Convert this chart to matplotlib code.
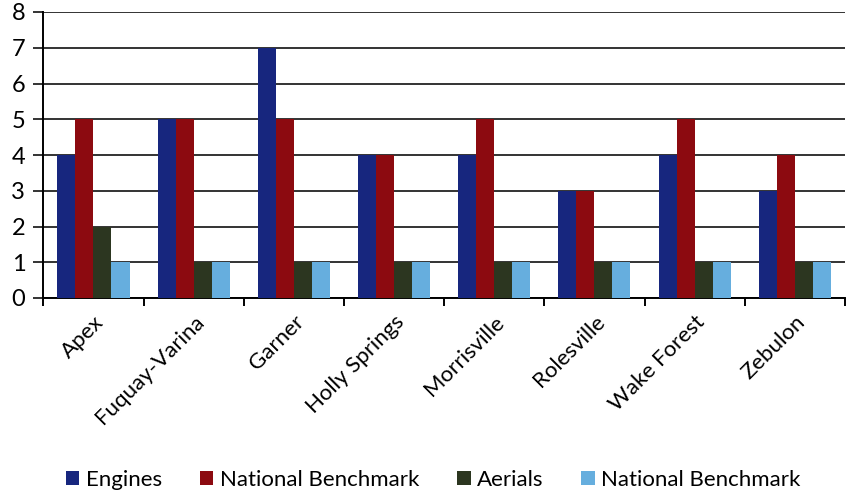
import numpy as np
import matplotlib.pyplot as plt

plt.rcParams['font.family'] = ['Lato', 'DejaVu Sans']

towns = ['Apex', 'Fuquay-Varina', 'Garner', 'Holly Springs', 'Morrisville',
         'Rolesville', 'Wake Forest', 'Zebulon']
engines = [4, 5, 7, 4, 4, 3, 4, 3]
engines_bench = [5, 5, 5, 4, 5, 3, 5, 4]
aerials = [2, 1, 1, 1, 1, 1, 1, 1]
aerials_bench = [1, 1, 1, 1, 1, 1, 1, 1]

series = [
    ('Engines', engines, '#17267e'),
    ('National Benchmark', engines_bench, '#8c0a10'),
    ('Aerials', aerials, '#2c3620'),
    ('National Benchmark', aerials_bench, '#66aede'),
]

fig = plt.figure(figsize=(8.5, 5), dpi=100)
ax = fig.add_axes([0.051, 0.404, 0.943, 0.572])

x = np.arange(len(towns))
width = 0.18
for i, (name, vals, color) in enumerate(series):
    ax.bar(x + (i - 1.5) * width, vals, width, color=color, label=name, zorder=3)

ax.set_xlim(-0.5, len(towns) - 0.5)
ax.set_ylim(0, 8)
ax.set_yticks(range(0, 9))
ax.yaxis.grid(True, color='#333333', linewidth=1.4, zorder=0)
ax.tick_params(axis='y', labelsize=17, length=7, width=1.4, pad=6, color='#333333')

ax.set_xticks(x)
ax.set_xticklabels(towns, rotation=45, ha='right', rotation_mode='anchor', fontsize=16)
ax.tick_params(axis='x', which='major', length=0, pad=10)
ax.set_xticks(np.arange(-0.5, len(towns)), minor=True)
ax.tick_params(axis='x', which='minor', length=6, width=1.4)

for side in ['top', 'right']:
    ax.spines[side].set_visible(False)
for side in ['left', 'bottom']:
    ax.spines[side].set_linewidth(1.4)

fig.legend(loc='lower center', bbox_to_anchor=(0.51, -0.02), ncol=4, frameon=False,
           fontsize=16, handlelength=0.6, handleheight=0.6, handletextpad=0.3,
           columnspacing=1.7)

fig.savefig('out.png', dpi=100)
